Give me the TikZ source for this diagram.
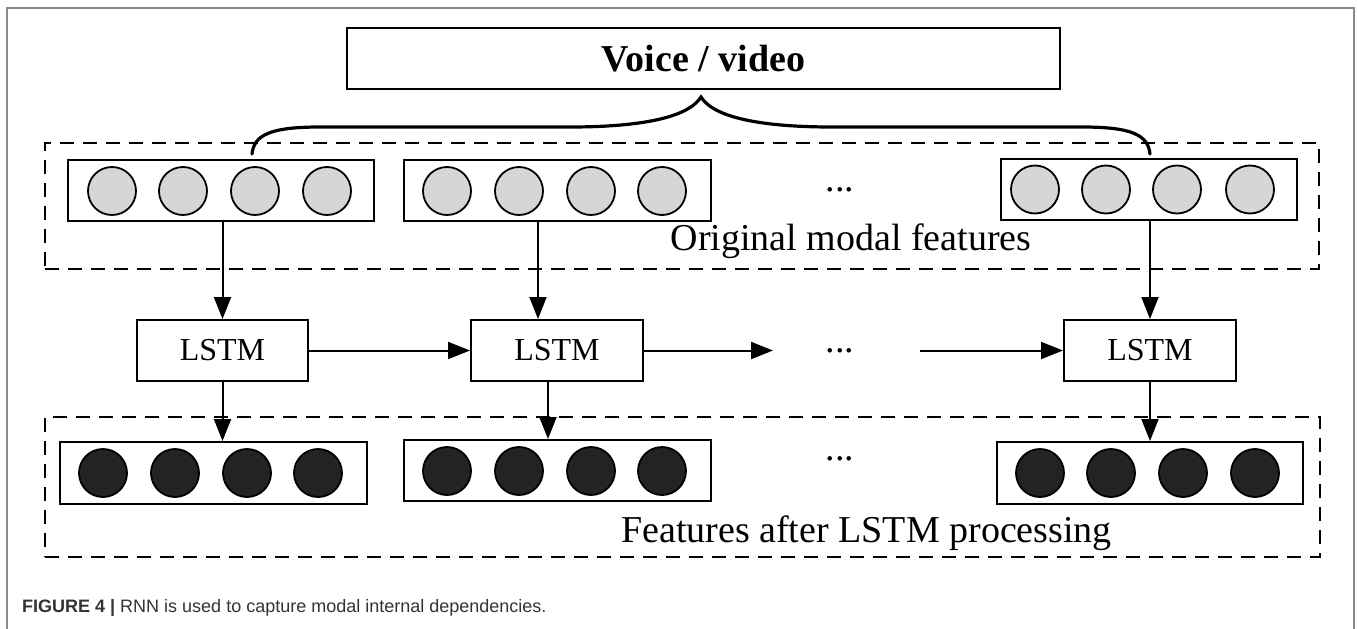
\documentclass[tikz,border=0pt]{standalone}
\usepackage{fontspec}
\setmainfont{Liberation Serif}
\newfontfamily\capfont{Liberation Sans}
\usetikzlibrary{arrows.meta}
\definecolor{lgray}{HTML}{D6D6D6}
\definecolor{dfill}{HTML}{232323}
\definecolor{framec}{HTML}{8A8A8A}
\definecolor{captxt}{HTML}{333333}
\begin{document}
\begin{tikzpicture}[x=1pt,y=-1pt,
  box/.style={draw,line width=2pt,minimum height=61pt,inner sep=0pt},
  lcirc/.style={circle,draw,line width=1.8pt,fill=lgray,minimum size=48pt,inner sep=0pt},
  dcirc/.style={circle,draw,line width=1.8pt,fill=dfill,minimum size=48pt,inner sep=0pt},
  arr/.style={line width=2pt,-{Triangle[length=22pt,width=17pt]}},
  dbox/.style={draw,line width=2pt,dash pattern=on 14pt off 9pt,inner sep=0pt},
  txt/.style={font=\fontsize{38}{44}\selectfont,inner sep=0pt},
  ltxt/.style={font=\fontsize{32}{38}\selectfont,inner sep=0pt},
]
\useasboundingbox (0,0) rectangle (1358,629);
% outer frame
\draw[framec,line width=1.5pt] (7,629) -- (7,8) -- (1354,8) -- (1354,629);

% dashed containers
\node[dbox,minimum width=1274pt,minimum height=126pt] (topgrp) at (682,206) {};
\node[dbox,minimum width=1275pt,minimum height=140pt] (botgrp) at (682.5,487) {};

% voice box
\node[box,minimum width=713pt] (voice) at (703.5,58.5) {};
\node[txt,font=\fontsize{38}{44}\selectfont\bfseries] (voicet) at (703.5,58.5) {Voice / video};

% top feature boxes
\node[box,minimum width=306pt] (f1) at (221,190.5) {};
\node[box,minimum width=307pt] (f2) at (557.5,190.5) {};
\node[box,minimum width=296pt] (f3) at (1149,189.5) {};
\foreach \x [count=\i] in {112,183,255,327} \node[lcirc] (fa\i) at (\x,191) {};
\foreach \x [count=\i] in {447,519,591,662} \node[lcirc] (fb\i) at (\x,191) {};
\foreach \x [count=\i] in {1035,1106,1177,1250} \node[lcirc] (fc\i) at (\x,189.5) {};
\node[txt,anchor=base] (dtop) at (840,191.5) {...};
\node[txt,anchor=base] (origlab) at (851,250) {Original modal features};

% brace
\coordinate (bl) at (252,154);
\coordinate (br) at (1150,154);
\coordinate (bt) at (701,97);
\draw[line width=3.2pt,line cap=round] (bl) .. controls (254,135) and (270,127) .. (320,127)
  -- (570,127) .. controls (650,127) and (690,115) .. (bt)
  .. controls (712,115) and (752,127) .. (832,127)
  -- (1082,127) .. controls (1132,127) and (1148,135) .. (br);

% LSTM boxes
\node[box,minimum width=171pt,ltxt] (l1) at (222.5,350.5) {LSTM};
\node[box,minimum width=172pt,ltxt] (l2) at (557,350.5) {LSTM};
\node[box,minimum width=172pt,ltxt] (l3) at (1150,350.5) {LSTM};
\coordinate (m1) at (773,350.5);
\coordinate (m2) at (920,350.5);
\node[txt,anchor=base] (dmid) at (840,352) {...};

% bottom feature boxes
\node[box,minimum width=307pt,minimum height=62pt] (g1) at (213.5,473) {};
\node[box,minimum width=307pt,minimum height=61pt] (g2) at (557.5,470.5) {};
\node[box,minimum width=306pt,minimum height=62pt] (g3) at (1150,473) {};
\foreach \x [count=\i] in {103,175,247,318} \node[dcirc] (ga\i) at (\x,473) {};
\foreach \x [count=\i] in {447,519,591,662} \node[dcirc] (gb\i) at (\x,471) {};
\foreach \x [count=\i] in {1040,1111,1183,1255} \node[dcirc] (gc\i) at (\x,473) {};
\node[txt,anchor=base] (dbot) at (840,460.5) {...};
\node[txt,anchor=base] (featlab) at (866.5,542) {Features after LSTM processing};

% arrows
\draw[arr] (f1.south -| l1.north) -- (l1.north);
\draw[arr] ([xshift=-19.5pt]f2.south) -- ([xshift=-19.5pt]f2.south |- l2.north);
\draw[arr] (f3.south -| l3.north) -- (l3.north);
\draw[arr] (l1.east) -- (l2.west);
\draw[arr] (l2.east) -- (m1);
\draw[arr] (m2) -- (l3.west);
\draw[arr] (l1.south) -- (l1.south |- g1.north);
\draw[arr] ([xshift=-9pt]l2.south) -- ([xshift=-9pt]l2.south |- g2.north);
\draw[arr] (l3.south) -- (l3.south |- g3.north);

% caption
\node[anchor=base west,inner sep=0pt,text=captxt,font=\capfont\fontsize{18}{22}\selectfont] (cap) at (22,612)
  {\textbf{FIGURE 4 |} RNN is used to capture modal internal dependencies.};
\end{tikzpicture}
\end{document}
